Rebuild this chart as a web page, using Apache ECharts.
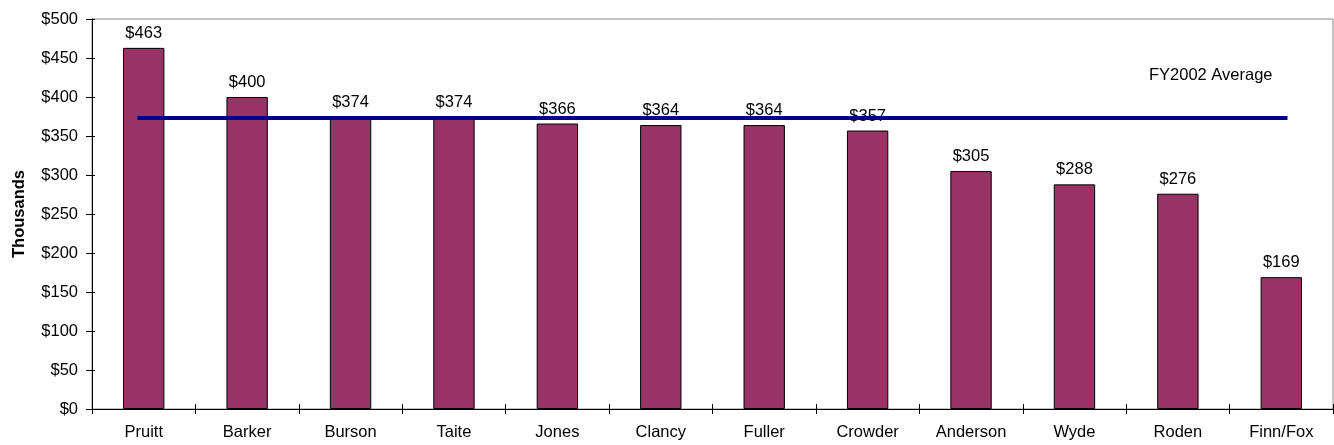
<!DOCTYPE html>
<html>
<head>
<meta charset="utf-8">
<script src="https://cdn.jsdelivr.net/npm/echarts@6/dist/echarts.min.js"></script>
<style>html,body{margin:0;padding:0;background:#fff}#c{width:1334px;height:445px}</style>
</head>
<body>
<div id="c"></div>
<script>
const categories = ['Pruitt','Barker','Burson','Taite','Jones','Clancy','Fuller','Crowder','Anderson','Wyde','Roden','Finn/Fox'];
const values = [463,400,374,374,366,364,364,357,305,288,276,169];
const averageValue = 373;
const averageSpan = [-0.06, 11.06];
const averageLabel = 'FY2002 Average';
const yTicks = [0,50,100,150,200,250,300,350,400,450,500];

const chart = echarts.init(document.getElementById('c'));
const font = 'Liberation Sans, Arial, sans-serif';
const fs = 16.5;
const yMin = yTicks[0], yMax = yTicks[yTicks.length-1], yStep = yTicks[1]-yTicks[0];
chart.setOption({
  animation: false,
  grid: {left: 92, right: 1, top: 19, bottom: 36, show: true, borderColor: '#888', borderWidth: 1},
  xAxis: [{
    type: 'category', data: categories,
    axisLine: {onZero: false, lineStyle: {color: '#000', width: 1}},
    axisTick: {show: true, length: 5, lineStyle: {color: '#000'}},
    axisLabel: {color: '#000', fontSize: fs, fontFamily: font, margin: 15}
  }, {
    type: 'value', min: -0.5, max: 11.5, show: false
  }, {
    type: 'category', data: categories, position: 'bottom',
    axisLine: {show: false},
    axisTick: {show: true, inside: true, length: 5, lineStyle: {color: '#000'}},
    axisLabel: {show: false}
  }],
  yAxis: [{
    type: 'value', min: yMin, max: yMax, interval: yStep,
    name: 'Thousands', nameLocation: 'middle', nameGap: 64,
    nameTextStyle: {color: '#000', fontSize: fs, fontWeight: 'bold', fontFamily: font},
    axisLine: {show: true, onZero: false, lineStyle: {color: '#000', width: 1}},
    axisTick: {show: true, length: 6, lineStyle: {color: '#000'}},
    splitLine: {show: false},
    axisLabel: {color: '#000', fontSize: fs, fontFamily: font, margin: 14, formatter: v => '$' + v}
  }, {
    type: 'value', min: yMin, max: yMax, interval: yStep, position: 'left',
    axisLine: {show: false, onZero: false},
    axisTick: {show: true, inside: true, length: 3, lineStyle: {color: '#000'}},
    splitLine: {show: false},
    axisLabel: {show: false}
  }],
  series: [{
    type: 'bar', data: values, barWidth: '40%',
    itemStyle: {color: '#993366', borderColor: '#000', borderWidth: 1},
    label: {show: true, position: 'top', distance: 6, color: '#000', fontSize: fs, fontFamily: font, formatter: p => '$' + p.value}
  }, {
    type: 'line', xAxisIndex: 1, symbol: 'none',
    data: averageSpan.map(x => [x, averageValue]),
    lineStyle: {color: '#000080', width: 4},
    z: 5
  }],
  graphic: [{
    type: 'text', left: 1149, top: 67,
    style: {text: averageLabel, fill: '#000', fontSize: fs, fontFamily: font}
  }]
});
</script>
</body>
</html>
